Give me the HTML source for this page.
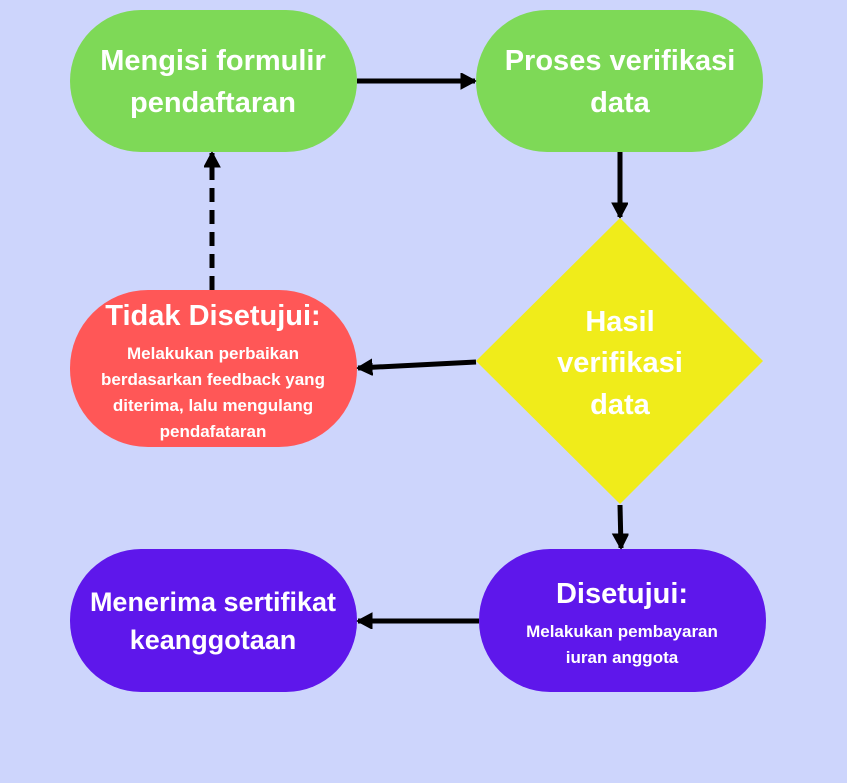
<!DOCTYPE html>
<html><head><meta charset="utf-8"><style>
html,body{margin:0;padding:0;background:#cdd5fc;}
svg{display:block}
text{font-family:"Liberation Sans",sans-serif;font-weight:bold;fill:#fff;text-anchor:middle}
</style></head><body>
<svg width="847" height="783" viewBox="0 0 847 783" xmlns="http://www.w3.org/2000/svg">
<defs>
<marker id="a" markerWidth="4" markerHeight="4" refX="2.9" refY="1.6" orient="auto" markerUnits="strokeWidth">
<path d="M0,0 L3,1.6 L0,3.2 Z" fill="#000" stroke="#000" stroke-width="0.3" stroke-linejoin="round"/></marker>
</defs>
<rect width="847" height="783" fill="#cdd5fc"/>
<rect x="70" y="10" width="287" height="142" rx="71" fill="#7ed957"/>
<rect x="476" y="10" width="287" height="142" rx="71" fill="#7ed957"/>
<polygon points="620,218 763,361 620,504 476,361" fill="#f0ec1a"/>
<rect x="70" y="290" width="287" height="157" rx="78" fill="#ff5757"/>
<rect x="70" y="549" width="287" height="143" rx="71" fill="#5e17eb"/>
<rect x="479" y="549" width="287" height="143" rx="71" fill="#5e17eb"/>

<g stroke="#000" stroke-width="5" fill="none">
<line x1="357" y1="81" x2="475" y2="81" marker-end="url(#a)"/>
<line x1="620" y1="152" x2="620" y2="217" marker-end="url(#a)"/>
<line x1="476" y1="362" x2="358" y2="368" marker-end="url(#a)"/>
<line x1="212" y1="290" x2="212" y2="153" stroke-dasharray="14,8" marker-end="url(#a)"/>
<line x1="620" y1="505" x2="621" y2="548" marker-end="url(#a)"/>
<line x1="479" y1="621" x2="358" y2="621" marker-end="url(#a)"/>
</g>

<text x="213" y="70" font-size="29">Mengisi formulir</text>
<text x="213" y="112" font-size="29">pendaftaran</text>
<text x="620" y="70" font-size="29">Proses verifikasi</text>
<text x="620" y="112" font-size="29">data</text>
<text x="620" y="331" font-size="29">Hasil</text>
<text x="620" y="372" font-size="29">verifikasi</text>
<text x="620" y="414" font-size="29">data</text>
<text x="213" y="325" font-size="29">Tidak Disetujui:</text>
<text x="213" y="359" font-size="17">Melakukan perbaikan</text>
<text x="213" y="385" font-size="17">berdasarkan feedback yang</text>
<text x="213" y="411" font-size="17">diterima, lalu mengulang</text>
<text x="213" y="437" font-size="17">pendafataran</text>
<text x="213" y="611" font-size="27">Menerima sertifikat</text>
<text x="213" y="649" font-size="27">keanggotaan</text>
<text x="622" y="603" font-size="29">Disetujui:</text>
<text x="622" y="637" font-size="17">Melakukan pembayaran</text>
<text x="622" y="663" font-size="17">iuran anggota</text>
</svg>
</body></html>
